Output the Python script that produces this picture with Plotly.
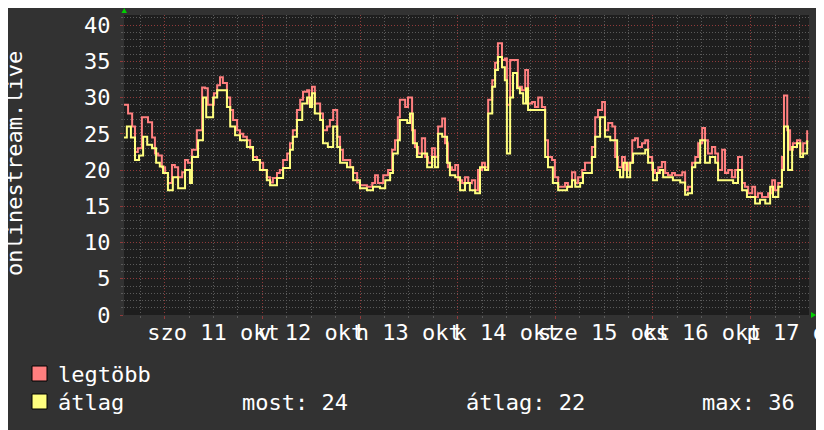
import pandas as pd
import plotly.graph_objects as go

# ---------------- data ----------------
start_time = "2025-10-10 14:00"
end_time = "2025-10-17 14:21"

# legtöbb (max) series: hours since start_time, values
max_hours = [0.0, 1.0, 2.0, 2.7, 3.4, 4.4, 5.2, 5.9, 6.9, 7.6, 8.4, 9.3, 10.1, 10.8, 11.8, 12.5, 13.3, 14.3, 15.0, 15.7,
             16.7, 17.9, 19.2, 19.9, 20.6, 21.6, 22.1, 22.9, 23.6, 24.3, 25.3, 26.1, 26.8, 27.8, 28.5, 29.3, 30.2, 31.0, 31.7, 32.7,
             33.4, 34.2, 35.1, 35.9, 36.6, 37.6, 38.3, 39.1, 40.1, 40.8, 41.5, 42.5, 43.3, 44.0, 45.0, 45.5, 46.2, 46.9, 48.2, 48.9,
             49.9, 50.6, 51.4, 52.4, 53.1, 53.8, 54.8, 55.6, 56.3, 57.3, 58.0, 59.7, 61.0, 61.7, 62.4, 63.7, 64.9, 65.9, 66.6, 67.3,
             67.8, 69.1, 69.8, 70.8, 71.5, 72.3, 73.2, 74.0, 74.7, 75.7, 76.4, 77.2, 78.2, 78.9, 79.6, 80.6, 81.4, 82.1, 83.1, 83.8,
             84.6, 85.5, 86.3, 87.0, 88.0, 88.7, 89.5, 90.5, 91.2, 91.9, 92.9, 93.6, 94.1, 94.9, 96.1, 96.8, 97.8, 98.6, 99.3, 100.3,
             101.0, 101.8, 102.7, 103.5, 104.2, 105.2, 105.9, 106.7, 107.7, 108.4, 109.1, 110.1, 110.9, 111.6, 112.6, 113.3, 114.1, 115.0, 115.8, 116.5,
             117.5, 118.2, 119.0, 120.0, 120.7, 121.4, 122.4, 123.1, 123.9, 124.9, 125.6, 126.3, 127.3, 128.1, 128.8, 129.8, 130.5, 131.3, 132.2, 133.0,
             133.7, 134.7, 135.4, 136.2, 137.2, 137.9, 138.6, 139.6, 140.4, 141.1, 142.1, 142.8, 143.5, 144.5, 145.3, 146.0, 147.0, 147.7, 148.5, 149.4,
             150.2, 150.9, 151.9, 152.6, 153.4, 154.4, 155.1, 155.8, 156.8, 157.6, 158.3, 159.3, 160.0, 160.8, 161.7, 162.2, 163.0, 163.7, 164.4, 165.4,
             166.2, 166.9, 167.9]
max_values = [29.0, 27.8, 26.0, 22.5, 23.0, 27.3, 27.3, 26.6, 24.5, 22.3, 22.0, 20.4, 19.6, 18.2, 20.7, 20.4, 19.0, 19.7, 21.4, 21.0,
              22.8, 25.5, 31.4, 31.3, 29.0, 29.0, 30.6, 31.7, 32.8, 32.0, 30.0, 28.3, 26.9, 25.5, 25.0, 24.6, 24.1, 23.0, 21.8, 21.4,
              21.0, 20.0, 19.0, 18.3, 18.9, 19.6, 20.0, 21.4, 22.3, 23.7, 25.5, 28.3, 29.7, 30.8, 31.0, 29.2, 31.5, 29.2, 27.8, 25.5,
              26.0, 26.9, 28.3, 24.6, 22.8, 21.4, 21.4, 20.4, 19.6, 18.3, 17.9, 17.7, 18.2, 19.3, 18.2, 19.3, 20.0, 22.8, 24.1, 27.3,
              29.7, 28.7, 30.0, 25.5, 23.2, 22.3, 24.4, 21.8, 21.0, 23.0, 21.8, 26.0, 27.1, 23.7, 20.4, 20.0, 20.7, 18.6, 18.2, 19.0,
              18.2, 18.6, 17.2, 20.0, 21.0, 20.4, 29.7, 32.4, 34.8, 37.5, 35.2, 35.4, 29.0, 35.2, 35.2, 31.5, 31.0, 33.8, 29.2, 29.4,
              28.7, 30.0, 28.7, 24.1, 21.8, 21.4, 19.0, 17.7, 17.7, 18.2, 17.7, 19.7, 18.2, 19.0, 20.0, 21.0, 21.0, 23.2, 27.3, 28.3,
              29.4, 25.5, 26.5, 26.0, 21.8, 20.4, 21.8, 20.0, 21.0, 24.1, 24.4, 23.2, 23.7, 24.1, 21.8, 20.0, 19.6, 20.4, 21.1, 19.6,
              19.3, 19.6, 19.3, 19.3, 19.7, 17.2, 17.7, 21.0, 21.8, 23.7, 25.8, 24.1, 22.3, 23.2, 22.3, 20.0, 22.8, 19.6, 20.0, 19.0,
              20.0, 21.8, 18.2, 17.7, 16.8, 17.7, 16.3, 16.8, 16.3, 16.3, 16.8, 18.6, 17.2, 18.2, 21.8, 30.3, 25.5, 22.8, 23.7, 24.1,
              22.3, 23.7, 25.5]

# átlag (average) series
avg_hours = [0.0, 0.7, 1.7, 2.7, 3.7, 4.7, 5.7, 6.9, 7.9, 8.8, 9.6, 10.8, 12.0, 13.3, 15.0, 16.2, 16.7, 18.2, 19.4, 20.2,
             21.4, 21.9, 22.9, 24.1, 25.3, 26.1, 27.3, 28.5, 30.2, 31.7, 33.4, 35.1, 35.9, 37.6, 39.1, 40.8, 41.5, 42.5, 43.8, 45.0,
             45.7, 46.2, 46.9, 48.2, 48.9, 50.1, 51.4, 52.4, 53.1, 54.8, 56.3, 58.0, 59.7, 61.2, 62.9, 64.2, 65.4, 66.1, 67.3, 67.8,
             69.6, 70.3, 71.0, 72.0, 73.2, 74.5, 75.7, 76.4, 77.2, 78.2, 79.4, 80.1, 81.4, 82.6, 83.8, 85.0, 86.3, 87.5, 88.7, 89.5,
             90.5, 91.2, 91.9, 92.9, 93.6, 94.1, 94.9, 95.6, 96.6, 97.3, 98.1, 98.8, 99.3, 100.5, 102.3, 103.5, 104.2, 105.4, 106.7, 107.9,
             108.9, 110.1, 110.9, 112.1, 112.8, 114.1, 115.0, 115.8, 117.0, 118.2, 119.5, 120.2, 121.2, 121.9, 122.7, 123.6, 124.4, 125.1, 126.8, 128.1,
             128.8, 130.0, 131.0, 131.7, 132.5, 133.5, 134.9, 136.7, 137.9, 138.6, 139.6, 140.4, 141.6, 142.8, 144.0, 145.3, 146.0, 147.2, 148.5, 149.7,
             150.9, 151.9, 153.1, 154.4, 155.1, 156.3, 157.6, 158.8, 159.5, 160.8, 161.7, 162.2, 163.2, 164.2, 165.4, 166.2, 166.9, 167.9]
avg_values = [24.5, 26.0, 24.5, 21.4, 22.0, 24.6, 23.5, 23.0, 21.0, 20.5, 19.6, 17.2, 19.0, 17.5, 20.0, 18.2, 21.8, 24.1, 30.0, 27.3,
              27.3, 30.0, 31.0, 31.0, 28.7, 26.0, 24.8, 24.1, 23.2, 21.4, 20.0, 18.6, 17.9, 18.9, 20.3, 22.8, 24.6, 26.9, 29.2, 30.0,
              28.7, 30.6, 27.8, 26.9, 23.7, 23.2, 26.0, 23.2, 21.0, 20.4, 18.6, 17.5, 17.2, 17.7, 17.5, 18.6, 19.6, 22.3, 24.1, 26.9,
              26.5, 27.8, 23.7, 21.8, 22.3, 20.4, 21.8, 20.4, 25.0, 24.6, 21.0, 19.3, 19.0, 17.2, 18.2, 17.2, 16.8, 20.4, 20.0, 27.8,
              31.5, 33.8, 35.6, 34.2, 32.4, 22.3, 30.0, 33.4, 31.3, 30.6, 29.2, 31.3, 28.3, 28.3, 28.3, 21.8, 20.4, 18.2, 17.2, 17.2,
              17.7, 18.6, 17.7, 18.2, 19.6, 19.6, 21.8, 24.6, 27.3, 24.6, 24.1, 24.1, 20.0, 19.0, 21.0, 19.0, 21.0, 22.3, 22.3, 22.8,
              21.0, 18.6, 19.6, 20.0, 19.0, 19.0, 18.6, 18.3, 16.6, 16.8, 20.4, 21.0, 24.1, 21.0, 21.8, 21.0, 18.6, 18.6, 18.6, 18.2,
              20.0, 17.2, 16.3, 16.3, 15.4, 15.9, 15.4, 17.7, 16.3, 17.7, 20.0, 26.0, 20.0, 23.2, 23.7, 21.8, 22.3, 24.1]

day_labels = ["szo 11 okt", "v 12 okt", "h 13 okt", "k 14 okt", "sze 15 okt", "cs 16 okt", "p 17 okt"]
first_day = "2025-10-11"
y_title = "onlinestream.live"
series_names = ["legtöbb", "átlag"]
stat_texts = ["most: 24", "átlag: 22", "max: 36"]
y_max = 41.4

# ---------------- styling ----------------
FONT = "DejaVu Sans Mono"
FS = 22
PAPER = "#323232"
PLOT = "#1e1e1e"
MINOR_GRID = "#5a5a5a"
MAJOR_GRID = "#8f3a3a"
PINK = "#ff7f7f"
YELLOW = "#ffff7f"
TXT = "#ffffff"

t0 = pd.Timestamp(start_time)
max_x = t0 + pd.to_timedelta(max_hours, unit="h")
avg_x = t0 + pd.to_timedelta(avg_hours, unit="h")
midnights = pd.date_range(first_day, periods=len(day_labels), freq="D")
noons = midnights + pd.Timedelta(hours=12)

fig = go.Figure()
fig.add_trace(go.Scatter(x=max_x, y=max_values, mode="lines", line=dict(color=PINK, width=2, shape="hv"),
                         name=series_names[0], showlegend=False, hoverinfo="skip"))
fig.add_trace(go.Scatter(x=avg_x, y=avg_values, mode="lines", line=dict(color=YELLOW, width=2, shape="hv"),
                         name=series_names[1], showlegend=False, hoverinfo="skip"))
fig.add_trace(go.Scatter(x=[], y=[], xaxis="x2", showlegend=False))

# page has an 8px body margin: figure sits at (8, 8) in the window
OFF = 8
W, H = 824 - OFF, 430 - OFF
PL, PR, PT, PB = 124, 809, 15, 315          # plot box in window pixels
L, T = PL - OFF, PT - OFF
R = W - (PR - OFF)
B = H - (PB - OFF)

fig.update_layout(
    width=W, height=H,
    margin=dict(l=L, r=R, t=T, b=B, autoexpand=False),
    paper_bgcolor=PAPER, plot_bgcolor=PLOT,
    font=dict(family=FONT, size=FS, color=TXT),
    xaxis=dict(
        type="date", range=[start_time, end_time],
        tickmode="array", tickvals=midnights, ticktext=[""] * len(midnights),
        showgrid=True, gridcolor=MAJOR_GRID, griddash="1px,2px", gridwidth=1,
        ticks="outside", ticklen=3, tickcolor=MAJOR_GRID,
        minor=dict(tickmode="linear", tick0=first_day, dtick=6 * 3600 * 1000,
                   showgrid=True, gridcolor=MINOR_GRID, griddash="1px,2px", gridwidth=1,
                   ticks="outside", ticklen=2, tickcolor=MINOR_GRID),
        zeroline=False, showline=False, fixedrange=True,
    ),
    xaxis2=dict(
        type="date", range=[start_time, end_time], overlaying="x", anchor="y", side="bottom",
        tickmode="array", tickvals=noons, ticktext=day_labels, tickangle=0,
        ticklabeloverflow="allow", showgrid=False, ticks="", ticklabelstandoff=2,
        tickfont=dict(family=FONT, size=FS, color=TXT), zeroline=False, showline=False,
    ),
    yaxis=dict(
        range=[0, y_max], tickmode="linear", tick0=0, dtick=5,
        showgrid=True, gridcolor=MAJOR_GRID, griddash="1px,2px", gridwidth=1,
        ticks="outside", ticklen=3, tickcolor=MAJOR_GRID, ticklabelstandoff=5,
        minor=dict(tickmode="linear", dtick=1, showgrid=True, gridcolor=MINOR_GRID,
                   griddash="1px,2px", gridwidth=1, ticks="outside", ticklen=2, tickcolor=MINOR_GRID),
        tickfont=dict(family=FONT, size=FS, color=TXT),
        zeroline=False, showline=False, fixedrange=True,
    ),
)

def px_x(px):
    return (px - PL) / (PR - PL)

def px_y(py):
    return (PB - py) / (PB - PT)

shapes = [
    # axis arrows
    dict(type="path", xref="paper", yref="paper",
         path=f"M {px_x(121.5)} {px_y(13)} L {px_x(127)} {px_y(13)} L {px_x(124.2)} {px_y(8)} Z",
         fillcolor="#00d000", line=dict(width=0)),
    dict(type="path", xref="paper", yref="paper",
         path=f"M {px_x(811)} {px_y(312)} L {px_x(811)} {px_y(318)} L {px_x(816)} {px_y(315)} Z",
         fillcolor="#00d000", line=dict(width=0)),
    # legend boxes
    dict(type="rect", xref="paper", yref="paper", x0=px_x(32), x1=px_x(47), y0=px_y(381), y1=px_y(366),
         fillcolor=PINK, line=dict(color="#000000", width=1)),
    dict(type="rect", xref="paper", yref="paper", x0=px_x(32), x1=px_x(47), y0=px_y(409), y1=px_y(394),
         fillcolor=YELLOW, line=dict(color="#000000", width=1)),
]
fig.update_layout(shapes=shapes)

ann = [
    dict(text=y_title, x=px_x(14), y=px_y(164), textangle=-90),
    dict(text=series_names[0], x=px_x(56), y=px_y(374), xanchor="left"),
    dict(text=series_names[1], x=px_x(56), y=px_y(402), xanchor="left"),
    dict(text=stat_texts[0], x=px_x(240), y=px_y(402), xanchor="left"),
    dict(text=stat_texts[1], x=px_x(464), y=px_y(402), xanchor="left"),
    dict(text=stat_texts[2], x=px_x(700), y=px_y(402), xanchor="left"),
]
for a in ann:
    a.setdefault("xanchor", "center")
    fig.add_annotation(xref="paper", yref="paper", yanchor="middle", showarrow=False,
                       font=dict(family=FONT, size=FS, color=TXT), **a)

fig.write_html("out.html")
